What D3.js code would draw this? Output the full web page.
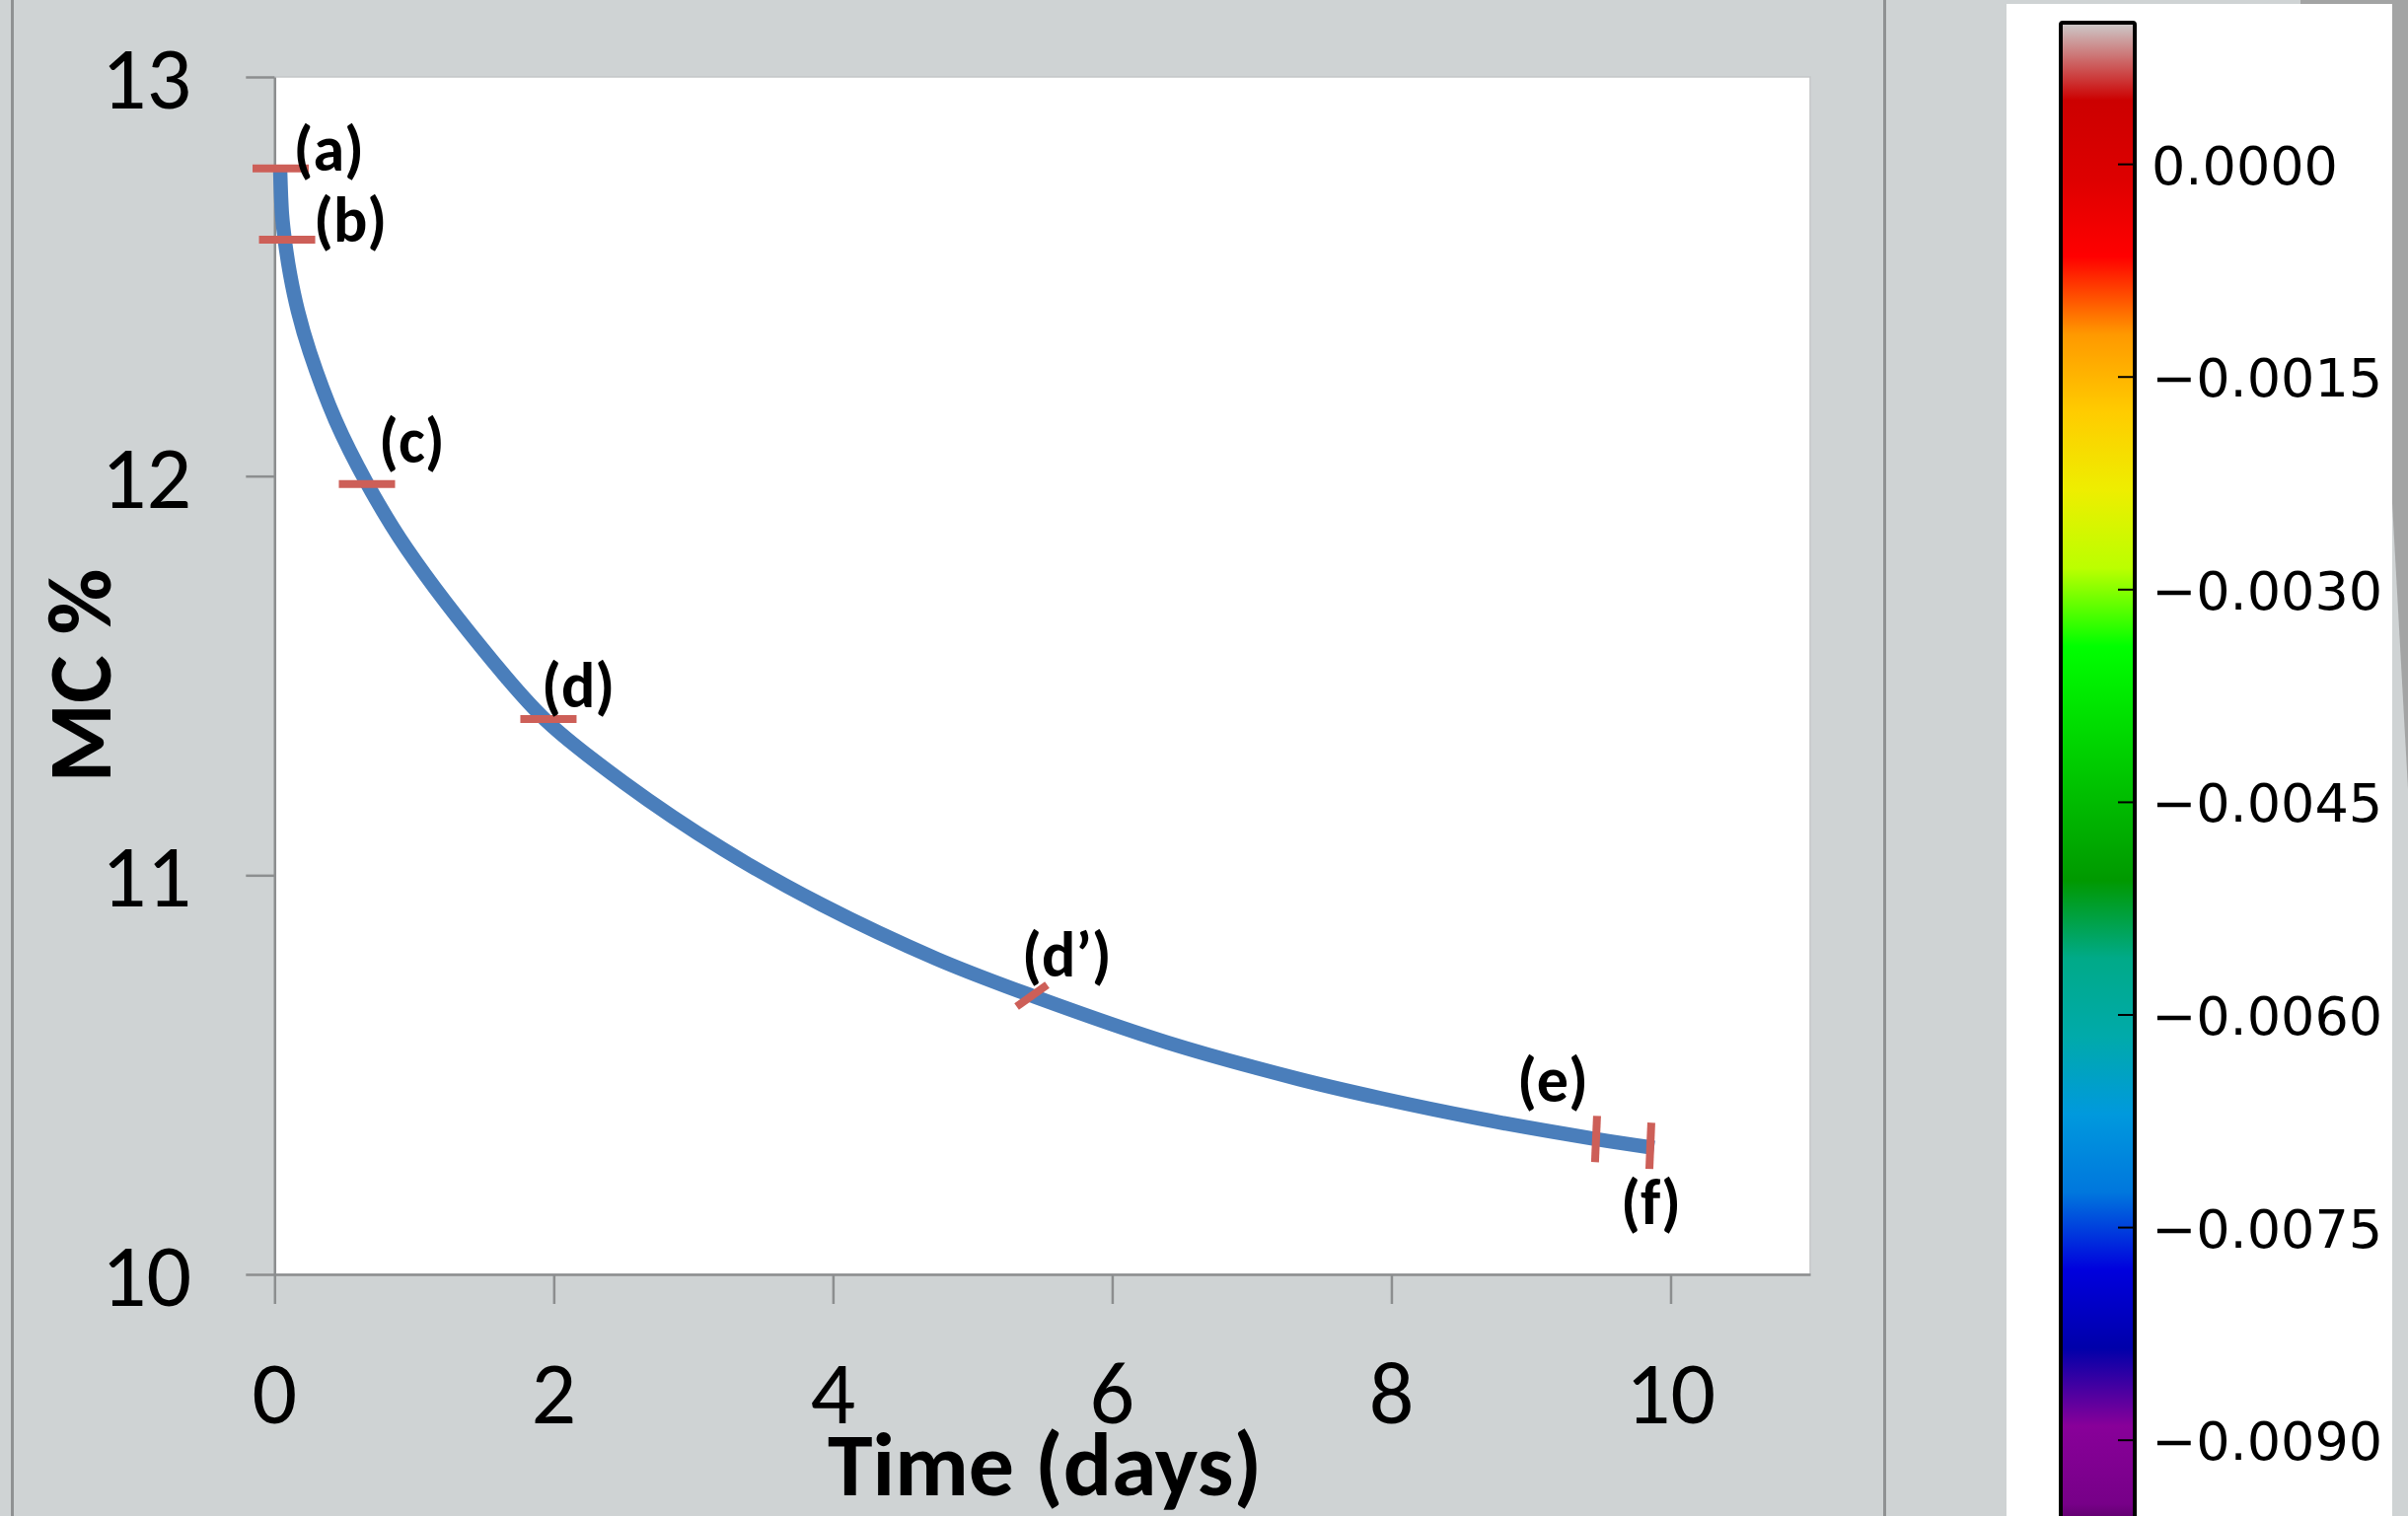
<!DOCTYPE html>
<html>
<head>
<meta charset="utf-8">
<script src="https://cdn.jsdelivr.net/npm/d3@7"></script>
<style>
    body { margin: 0; background: #cfd3d4; }
    svg { display: block; }
    .tick-label { font-family: Carlito, Calibri, Lato, sans-serif; font-size: 90px; fill: #000; }
    .axis-title { font-family: Carlito, Calibri, Lato, sans-serif; font-weight: bold; fill: #000; }
    .mark-label { font-family: Carlito, Calibri, Lato, sans-serif; font-weight: bold; font-size: 64px; fill: #000; }
    .cbar-label { font-family: "DejaVu Sans", sans-serif; font-size: 54px; fill: #000; }
</style>
</head>
<body>
<svg id="chart" width="2441" height="1537"></svg>
<script>
// moisture content curve
var timeDays = [0.040, 0.054, 0.076, 0.111, 0.167, 0.252, 0.436, 0.662, 0.945, 1.566, 1.941, 2.506,
    3.213, 3.920, 4.746, 5.425, 6.393, 7.340, 7.926, 8.633, 9.466, 9.882];
var mcPercent = [12.773, 12.654, 12.585, 12.506, 12.414, 12.311, 12.140, 11.982, 11.819, 11.535, 11.389, 11.231,
    11.065, 10.926, 10.790, 10.698, 10.581, 10.489, 10.441, 10.390, 10.339, 10.317];

// the snapshot markers on the curve
var markerNames = ['(a)', '(b)', '(c)', '(d)', '(d\u2019)', '(e)', '(f)'];
var markerDays = [0.044, 0.090, 0.662, 1.962, 5.425, 9.466, 9.855];
var markerMC = [12.771, 12.592, 11.980, 11.391, 10.698, 10.339, 10.322];

var xTicks = [0, 2, 4, 6, 8, 10];
var yTicks = [10, 11, 12, 13];

// colorbar
var cbarTicks = [0, -0.0015, -0.0030, -0.0045, -0.0060, -0.0075, -0.0090];
var cbarDomain = [-0.010, 0.001];
// nipy_spectral colormap control points
var cmapPos = [0, 0.05, 0.10, 0.15, 0.20, 0.25, 0.30, 0.35, 0.40, 0.45, 0.50,
    0.55, 0.60, 0.65, 0.70, 0.75, 0.80, 0.85, 0.90, 0.95, 1.0];
var cmapRGB = [[0, 0, 0], [0.4667, 0, 0.5333], [0.5333, 0, 0.6], [0, 0, 0.6667], [0, 0, 0.8667],
    [0, 0.4667, 0.8667], [0, 0.6, 0.8667], [0, 0.6667, 0.6667], [0, 0.6667, 0.5333], [0, 0.6, 0],
    [0, 0.7333, 0], [0, 0.8667, 0], [0, 1, 0], [0.7333, 1, 0], [0.9333, 0.9333, 0], [1, 0.8, 0],
    [1, 0.6, 0], [1, 0, 0], [0.8667, 0, 0], [0.8, 0, 0], [0.8, 0.8, 0.8]];

// layout (label offsets / marker orientation, px)
var markerLayout = [
    {angle: 0, len: 57, dx: 13, dy: 2},
    {angle: 0, len: 57, dx: 27, dy: 2},
    {angle: 0, len: 57, dx: 12, dy: -22},
    {angle: 0, len: 57, dx: -7, dy: -12},
    {angle: -35.5, len: 38, dx: -10, dy: -20},
    {angle: -87.5, len: 47, dx: -80, dy: -38},
    {angle: -87.6, len: 47, dx: -30, dy: 79}
];

var svg = d3.select('#chart');
var plot = {left: 278.3, right: 1835, top: 78, bottom: 1292};

// ---- background panels
svg.append('rect').attr('x', 0).attr('y', 0).attr('width', 2441).attr('height', 1537).attr('fill', '#cfd3d4');
svg.append('rect').attr('x', 11).attr('y', 0).attr('width', 3).attr('height', 1537).attr('fill', '#8f9192');
svg.append('rect').attr('x', 1909).attr('y', 0).attr('width', 3).attr('height', 1537).attr('fill', '#8f9192');
svg.append('rect').attr('x', 2034).attr('y', 4).attr('width', 391).attr('height', 1533).attr('fill', '#ffffff');
svg.append('rect').attr('x', 2332).attr('y', 0).attr('width', 109).attr('height', 4).attr('fill', '#a3a4a4');
svg.append('polygon').attr('points', '2425,0 2441,0 2441,800 2425,510').attr('fill', '#a3a4a4');

// ---- scales
var x = d3.scaleLinear().domain([0, 11]).range([plot.left, plot.right]);
var y = d3.scaleLinear().domain([10, 13]).range([plot.bottom, plot.top]);

svg.append('rect')
    .attr('x', plot.left).attr('y', plot.top)
    .attr('width', plot.right - plot.left).attr('height', plot.bottom - plot.top)
    .attr('fill', '#ffffff').attr('stroke', '#c4c6c7').attr('stroke-width', 1.5);

// axes, Excel style: grey line, outside ticks
var xAxis = svg.append('g').attr('transform', 'translate(0,' + plot.bottom + ')')
    .call(d3.axisBottom(x).tickValues(xTicks).tickSize(30).tickSizeOuter(0).tickFormat(''));
var yAxis = svg.append('g').attr('transform', 'translate(' + plot.left + ',0)')
    .call(d3.axisLeft(y).tickValues(yTicks).tickSize(29).tickSizeOuter(0).tickFormat(''));
[xAxis, yAxis].forEach(function(g) {
    g.select('.domain').attr('stroke', '#8c8e8f').attr('stroke-width', 2.5);
    g.selectAll('.tick line').attr('stroke', '#8c8e8f').attr('stroke-width', 2.5);
});

svg.selectAll('.xlab').data(xTicks).enter().append('text')
    .attr('class', 'tick-label').attr('text-anchor', 'middle')
    .attr('x', function(d) { return x(d); }).attr('y', 1443)
    .text(function(d) { return d; });
svg.selectAll('.ylab').data(yTicks).enter().append('text')
    .attr('class', 'tick-label').attr('text-anchor', 'end')
    .attr('x', 194).attr('y', function(d) { return y(d) + 32; })
    .text(function(d) { return d; });

svg.append('text').attr('class', 'axis-title')
    .attr('font-size', 92).attr('text-anchor', 'middle')
    .attr('transform', 'translate(112,685) rotate(-90)')
    .text('MC %');
svg.append('text').attr('class', 'axis-title')
    .attr('font-size', 92).attr('text-anchor', 'middle')
    .attr('x', 1059).attr('y', 1516)
    .text('Time (days)');

// ---- the drying curve
var line = d3.line()
    .x(function(d) { return x(d[0]); })
    .y(function(d) { return y(d[1]); })
    .curve(d3.curveCatmullRom.alpha(0.5));
svg.append('path')
    .datum(d3.zip(timeDays, mcPercent))
    .attr('d', line)
    .attr('fill', 'none')
    .attr('stroke', '#4a7ebb')
    .attr('stroke-width', 14.5);

// ---- markers + labels
var marks = svg.selectAll('.mark').data(markerNames).enter().append('g')
    .attr('transform', function(d, i) {
        return 'translate(' + x(markerDays[i]) + ',' + y(markerMC[i]) + ')';
    });
marks.append('line')
    .attr('x1', function(d, i) { return -markerLayout[i].len / 2; })
    .attr('x2', function(d, i) { return markerLayout[i].len / 2; })
    .attr('y1', 0).attr('y2', 0)
    .attr('transform', function(d, i) { return 'rotate(' + markerLayout[i].angle + ')'; })
    .attr('stroke', '#cd5f58').attr('stroke-width', 8);
marks.append('text')
    .attr('class', 'mark-label')
    .attr('x', function(d, i) { return markerLayout[i].dx; })
    .attr('y', function(d, i) { return markerLayout[i].dy; })
    .text(function(d) { return d; });

// ---- colorbar
var cbar = {left: 2089, width: 75};
var c = d3.scaleLinear().domain(cbarDomain).range([1603.9, 22.9]);

var grad = svg.append('defs').append('linearGradient')
    .attr('id', 'spectral').attr('x1', 0).attr('y1', 1).attr('x2', 0).attr('y2', 0);
grad.selectAll('stop').data(cmapPos).enter().append('stop')
    .attr('offset', function(d) { return d; })
    .attr('stop-color', function(d, i) {
        var rgb = cmapRGB[i];
        return d3.rgb(rgb[0] * 255, rgb[1] * 255, rgb[2] * 255);
    });

svg.append('rect')
    .attr('x', cbar.left).attr('y', c(cbarDomain[1]))
    .attr('width', cbar.width).attr('height', c(cbarDomain[0]) - c(cbarDomain[1]))
    .attr('fill', 'url(#spectral)')
    .attr('stroke', '#000').attr('stroke-width', 4).attr('rx', 2);

svg.selectAll('.ctick').data(cbarTicks).enter().append('line')
    .attr('x1', cbar.left + cbar.width - 17).attr('x2', cbar.left + cbar.width)
    .attr('y1', function(d) { return c(d); }).attr('y2', function(d) { return c(d); })
    .attr('stroke', '#000').attr('stroke-width', 2);

var fmt = d3.format('.4f');
svg.selectAll('.clab').data(cbarTicks).enter().append('text')
    .attr('class', 'cbar-label')
    .attr('x', 2181).attr('y', function(d) { return c(d) + 20; })
    .text(function(d) { return fmt(d); });
</script>
</body>
</html>
